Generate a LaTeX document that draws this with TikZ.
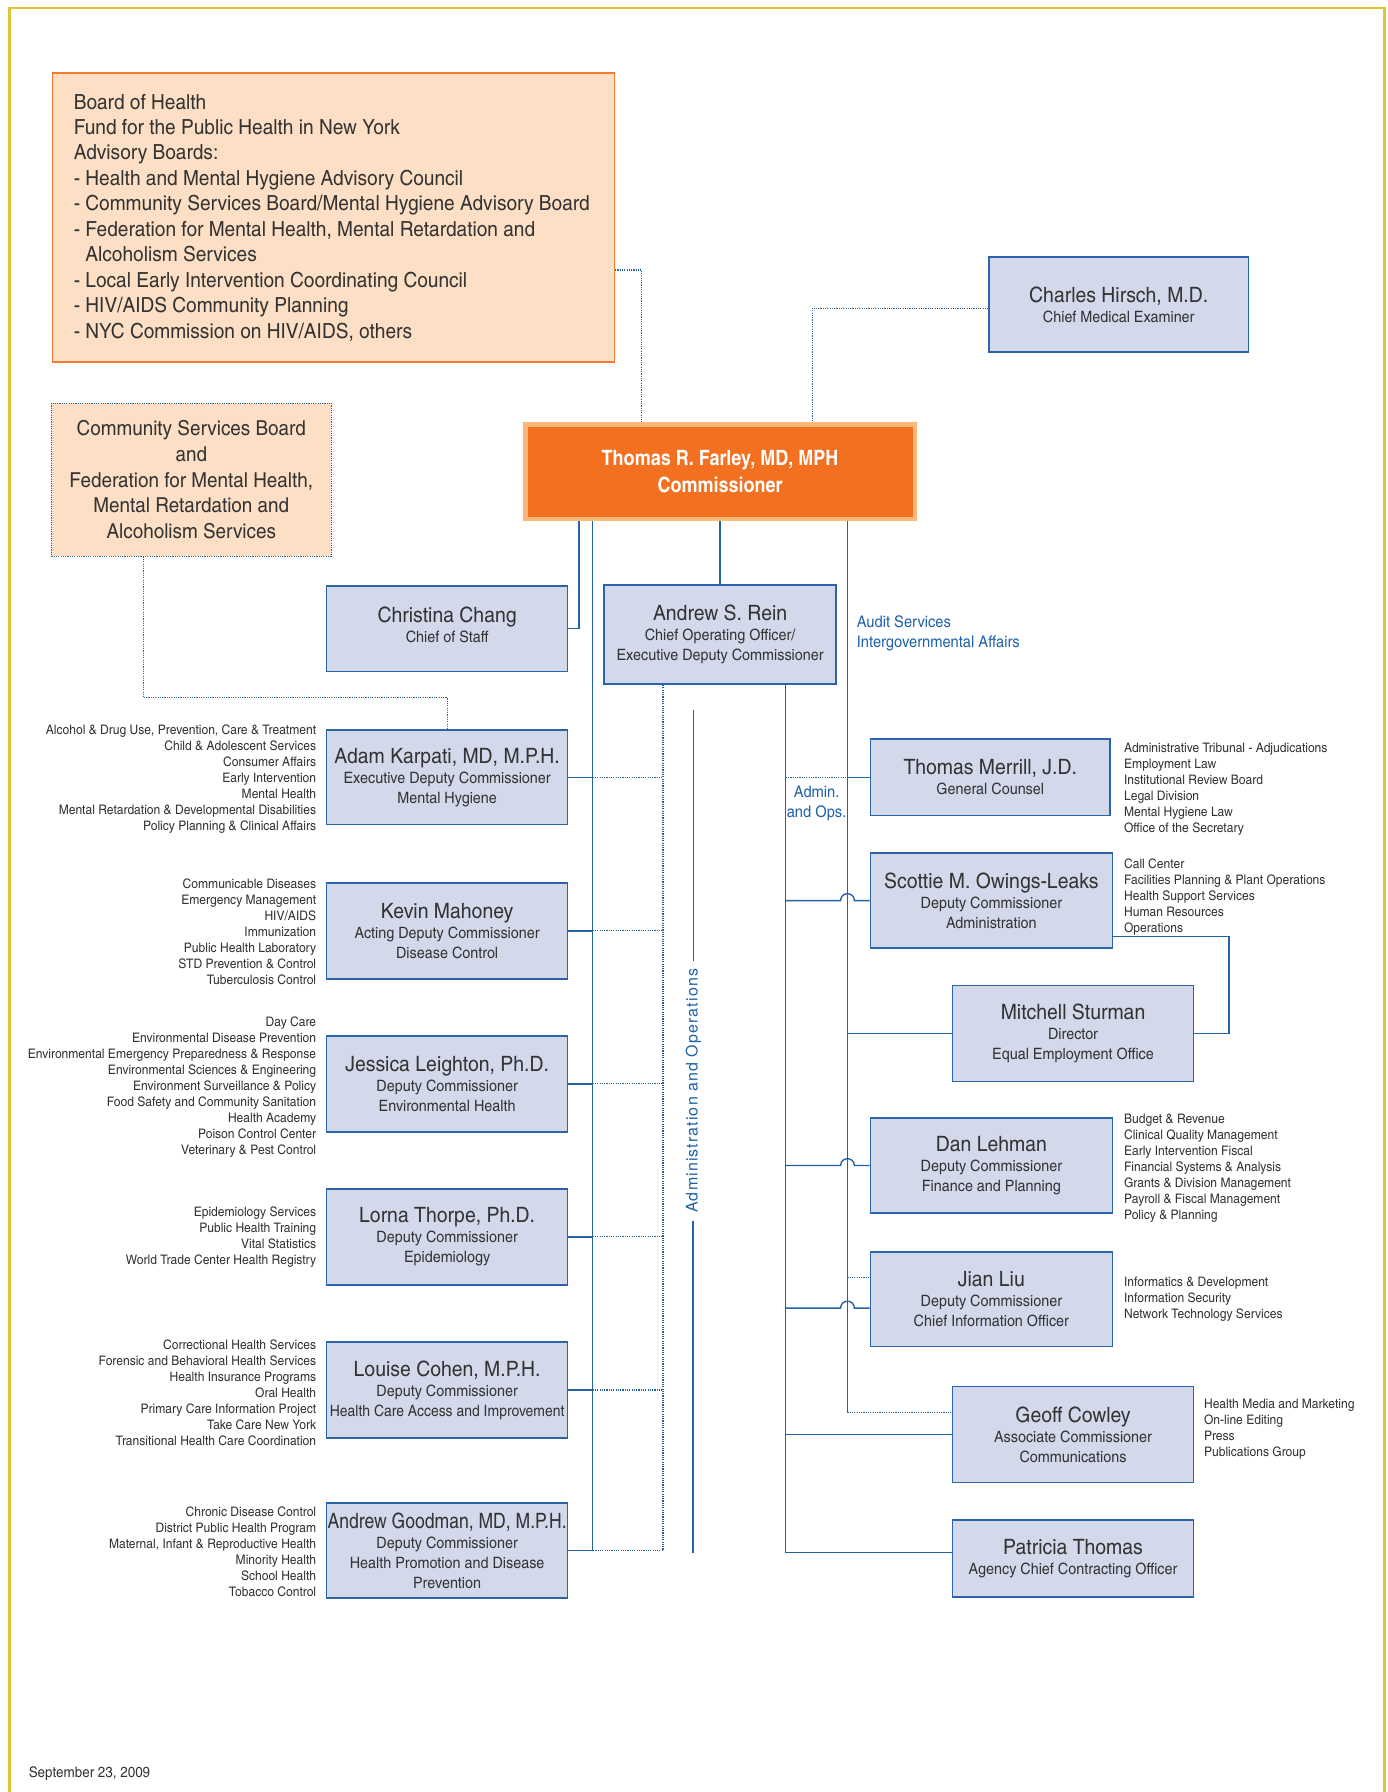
\documentclass[tikz,border=0pt]{standalone}
\usepackage{fontspec}
\usepackage{graphicx}
\setmainfont{texgyreheroscn}[Extension=.otf,UprightFont=*-regular,BoldFont=*-bold,FakeStretch=1.12]
\newfontfamily\commf{texgyreheroscn}[Extension=.otf,UprightFont=*-bold,FakeStretch=1.04]
\newfontfamily\wideff{texgyreheros}[Extension=.otf,UprightFont=*-regular,LetterSpace=7]
\usetikzlibrary{calc}
\definecolor{boxfill}{HTML}{D3D9EB}
\definecolor{boxline}{HTML}{2B64A9}
\definecolor{connc}{HTML}{2263A8}
\definecolor{peach}{HTML}{FDDFC5}
\definecolor{orangeline}{HTML}{F37A2E}
\definecolor{orangefill}{HTML}{F37021}
\definecolor{orangeedge}{HTML}{FDB877}
\definecolor{frameyellow}{HTML}{E2C535}
\definecolor{txt}{HTML}{333333}
\definecolor{bluetxt}{HTML}{1F63AA}
\newcommand\namef{\fontsize{18.5}{18}\selectfont}
\newcommand\subf{\fontsize{13.7}{17.5}\selectfont}
\newcommand\listf{\fontsize{11.5}{14}\selectfont}
\newcommand\jumpconn[1]{\draw[conn] (#1 -| xA) -- ($(#1 -| xR)+(-6,0)$) .. controls ($(#1 -| xR)+(-6,-8)$) and ($(#1 -| xR)+(6,-8)$) .. ($(#1 -| xR)+(6,0)$) -- (#1);}
\begin{document}
\begin{tikzpicture}[x=1pt,y=-1pt,
  box/.style={draw=boxline, fill=boxfill, line width=1.4pt, minimum width=211pt, minimum height=83pt, inner sep=0pt, align=center, text=txt, font=\subf},
  conn/.style={draw=connc, line width=1.2pt},
  dotc/.style={draw=connc, line width=0.9pt, dash pattern=on 1pt off 1pt},
  listL/.style={anchor=north east, align=right, font=\listf, text=txt, inner sep=0pt},
  listR/.style={anchor=north west, align=left, font=\listf, text=txt, inner sep=0pt},
  bluelbl/.style={text=bluetxt, font=\fontsize{14}{17}\selectfont, inner sep=0pt},
  yframe/.style={draw=frameyellow, line width=2.6pt}
]
\useasboundingbox (0,0) rectangle (1214.5,1569);
\fill[white] (0,0) rectangle (1214.5,1569);
\draw[yframe] (8,1600) -- (8,7) -- (1212,7) -- (1212,1600);

% coordinates for trunks
\coordinate (xchang) at (507,0);
\coordinate (xL) at (519,0);
\coordinate (xD) at (580.5,0);
\coordinate (xA) at (688,0);
\coordinate (xR) at (742,0);
\coordinate (xB) at (562,0);
\coordinate (xH) at (711,0);
\coordinate (xS) at (1076,0);

% top boxes
\node[draw=orangeline, fill=peach, line width=1.2pt, minimum width=492pt, minimum height=253pt, inner sep=0pt] (board) at (292,190.5) {};
\node[anchor=west, align=left, inner sep=0pt, text=txt, font=\fontsize{18.2}{22.3}\selectfont] (boardtxt) at ($(board.west)+(19,0)$) {Board of Health\\Fund for the Public Health in New York\\Advisory Boards:\\- Health and Mental Hygiene Advisory Council\\- Community Services Board/Mental Hygiene Advisory Board\\- Federation for Mental Health, Mental Retardation and\\\phantom{- }Alcoholism Services\\- Local Early Intervention Coordinating Council\\- HIV/AIDS Community Planning\\- NYC Commission on HIV/AIDS, others};

\node[box, minimum width=227pt] (hirsch) at (979.5,266.5) {{\namef Charles Hirsch, M.D.}\\Chief Medical Examiner};

\node[fill=orangefill, draw=orangeedge, line width=4pt, minimum width=341pt, minimum height=83pt, inner sep=0pt, align=center, text=white, font=\commf\fontsize{18.5}{23}\selectfont] (comm) at (630.5,413) {Thomas R. Farley, MD, MPH\\Commissioner};

\node[fill=peach, dotc, minimum width=245pt, minimum height=134pt, inner sep=0pt, align=center, text=txt, font=\fontsize{18}{22.5}\selectfont] (csb) at (167.5,420) {Community Services Board\\and\\Federation for Mental Health,\\Mental Retardation and\\Alcoholism Services};

% second row
\node[box, minimum height=75pt] (chang) at (391.5,550.5) {{\namef Christina Chang}\\Chief of Staff\\[-10.5pt]};
\node[box, minimum width=203pt, minimum height=87pt] (rein) at (630.5,555.5) {{\namef Andrew S. Rein}\\Chief Operating Officer/\\Executive Deputy Commissioner};

% left column
\node[box] (karpati) at (391.5,680.5) {{\namef Adam Karpati, MD, M.P.H.}\\Executive Deputy Commissioner\\Mental Hygiene};
\node[box, minimum height=84pt] (mahoney) at (391.5,815) {{\namef Kevin Mahoney}\\Acting Deputy Commissioner\\Disease Control};
\node[box, minimum height=84pt] (leighton) at (391.5,949) {{\namef Jessica Leighton, Ph.D.}\\Deputy Commissioner\\Environmental Health};
\node[box, minimum height=84pt] (thorpe) at (391.5,1083) {{\namef Lorna Thorpe, Ph.D.}\\Deputy Commissioner\\Epidemiology};
\node[box, minimum height=84pt] (cohen) at (391.5,1217) {{\namef Louise Cohen, M.P.H.}\\Deputy Commissioner\\\scalebox{0.97}[1]{Health Care Access and Improvement}};
\node[box] (goodman) at (391.5,1357.5) {{\namef\scalebox{0.905}[1]{Andrew Goodman, MD, M.P.H.}}\\Deputy Commissioner\\Health Promotion and Disease\\Prevention};

% right column
\node[box, minimum width=210pt, minimum height=67pt] (merrill) at (867,680.5) {{\namef Thomas Merrill, J.D.}\\General Counsel};
\node[box, minimum width=212pt] (owings) at (868,788.5) {{\namef Scottie M. Owings-Leaks}\\Deputy Commissioner\\Administration};
\node[box, minimum height=84pt] (sturman) at (939.5,905) {{\namef Mitchell Sturman}\\Director\\Equal Employment Office};
\node[box, minimum width=212pt] (lehman) at (868,1020.5) {{\namef Dan Lehman}\\Deputy Commissioner\\Finance and Planning};
\node[box, minimum width=212pt] (liu) at (868,1137.5) {{\namef Jian Liu}\\Deputy Commissioner\\Chief Information Officer};
\node[box, minimum height=84pt] (cowley) at (939.5,1256) {{\namef Geoff Cowley}\\Associate Commissioner\\Communications};
\node[box, minimum height=67pt] (thomas) at (939.5,1364.5) {{\namef Patricia Thomas}\\Agency Chief Contracting Officer};

% lists left
\node[listL] (lkarpati) at (277,634.5) {Alcohol \& Drug Use, Prevention, Care \& Treatment\\Child \& Adolescent Services\\Consumer Affairs\\Early Intervention\\Mental Health\\Mental Retardation \& Developmental Disabilities\\Policy Planning \& Clinical Affairs};
\node[listL] (lmahoney) at (277,769.5) {Communicable Diseases\\Emergency Management\\HIV/AIDS\\Immunization\\Public Health Laboratory\\STD Prevention \& Control\\Tuberculosis Control};
\node[listL] (lleighton) at (277,890.5) {Day Care\\Environmental Disease Prevention\\Environmental Emergency Preparedness \& Response\\Environmental Sciences \& Engineering\\Environment Surveillance \& Policy\\Food Safety and Community Sanitation\\Health Academy\\Poison Control Center\\Veterinary \& Pest Control};
\node[listL] (lthorpe) at (277,1056.5) {Epidemiology Services\\Public Health Training\\Vital Statistics\\World Trade Center Health Registry};
\node[listL] (lcohen) at (277,1172.5) {Correctional Health Services\\Forensic and Behavioral Health Services\\Health Insurance Programs\\Oral Health\\Primary Care Information Project\\Take Care New York\\Transitional Health Care Coordination};
\node[listL] (lgoodman) at (277,1319.5) {Chronic Disease Control\\District Public Health Program\\Maternal, Infant \& Reproductive Health\\Minority Health\\School Health\\Tobacco Control};

% lists right
\node[listR] (lmerrill) at (984,650.5) {Administrative Tribunal - Adjudications\\Employment Law\\Institutional Review Board\\Legal Division\\Mental Hygiene Law\\Office of the Secretary};
\node[listR] (lowings) at (984,751.5) {Call Center\\Facilities Planning \& Plant Operations\\Health Support Services\\Human Resources\\Operations};
\node[listR] (llehman) at (984,975.5) {Budget \& Revenue\\Clinical Quality Management\\Early Intervention Fiscal\\Financial Systems \& Analysis\\Grants \& Division Management\\Payroll \& Fiscal Management\\Policy \& Planning};
\node[listR] (lliu) at (984,1117.5) {Informatics \& Development\\Information Security\\Network Technology Services};
\node[listR] (lcowley) at (1054,1224.5) {Health Media and Marketing\\On-line Editing\\Press\\Publications Group};

% blue labels
\node[bluelbl, anchor=north west, align=left] (audit) at (750,539) {Audit Services\\Intergovernmental Affairs};
\node[bluelbl, align=center] (adminops) at (715,703.5) {Admin.\\and Ops.};
\node[text=bluetxt, font=\wideff\fontsize{14}{17}\selectfont, rotate=90, inner xsep=7pt, inner ysep=0pt] (aolabel) at (607,955) {Administration and Operations};
\coordinate (aoTop) at (607,622);
\coordinate (aoBot) at (607,1360);
\draw[conn] (aoTop) -- (aolabel.east);
\draw[conn, line width=1.5pt] (aolabel.west) -- (aoBot);

\node[anchor=west, inner sep=0pt, text=txt, font=\fontsize{12.8}{14}\selectfont] (date) at (25,1553) {September 23, 2009};

% dotted links at top
\coordinate (bA) at ($(board.north east)+(0,173)$);
\draw[dotc] (bA) -| (comm.north -| xB);
\coordinate (hA) at ($(hirsch.west)+(0,3.5)$);
\draw[dotc] (hA) -| (comm.north -| xH);
\coordinate (cA) at ($(csb.south west)+(81,0)$);
\coordinate (csbturn) at (391.5,611);
\draw[dotc] (cA) |- (csbturn) -- (karpati.north);

% commissioner to second row
\draw[conn] (comm.south -| xchang) |- (chang.east);
\draw[conn] (comm.south) -- (rein.north);

% left trunk
\draw[conn] (comm.south -| xL) -- (goodman.east -| xL) -- (goodman.east);
\foreach \n in {karpati,mahoney,leighton,thorpe,cohen}{
  \draw[conn] (\n.east) -- (\n.east -| xL);
  \draw[dotc] (\n.east -| xL) -- (\n.east -| xD);
}
\draw[dotc] (rein.south -| xD) -- (goodman.east -| xD) -- (goodman.east -| xL);

% right trunks
\coordinate (thomasC) at ($(thomas.west)+(0,-5)$);
\draw[conn] (rein.south -| xA) -- (thomasC -| xA) -- (thomasC);
\coordinate (cowleyD) at ($(cowley.north west)+(0,23)$);
\draw[conn] (comm.south -| xR) -- (cowleyD -| xR);
\draw[dotc] (cowleyD -| xR) -- (cowleyD);
\draw[conn] (cowley.west -| xA) -- (cowley.west);

\draw[dotc] (merrill.west -| xA) -- (merrill.west -| xR);
\draw[conn] (merrill.west -| xR) -- (merrill.west);
\draw[conn] (sturman.west -| xR) -- (sturman.west);
\jumpconn{owings.west}
\jumpconn{lehman.west}
\coordinate (liuS) at ($(liu.north west)+(0,50)$);
\coordinate (liuD) at ($(liu.north west)+(0,23)$);
\jumpconn{liuS}
\draw[dotc] (liuD -| xR) -- (liuD);

% Owings to Sturman
\coordinate (osA) at ($(owings.south east)+(0,-11)$);
\draw[conn] (osA) -| (sturman.east -| xS) -- (sturman.east);
\end{tikzpicture}
\end{document}
